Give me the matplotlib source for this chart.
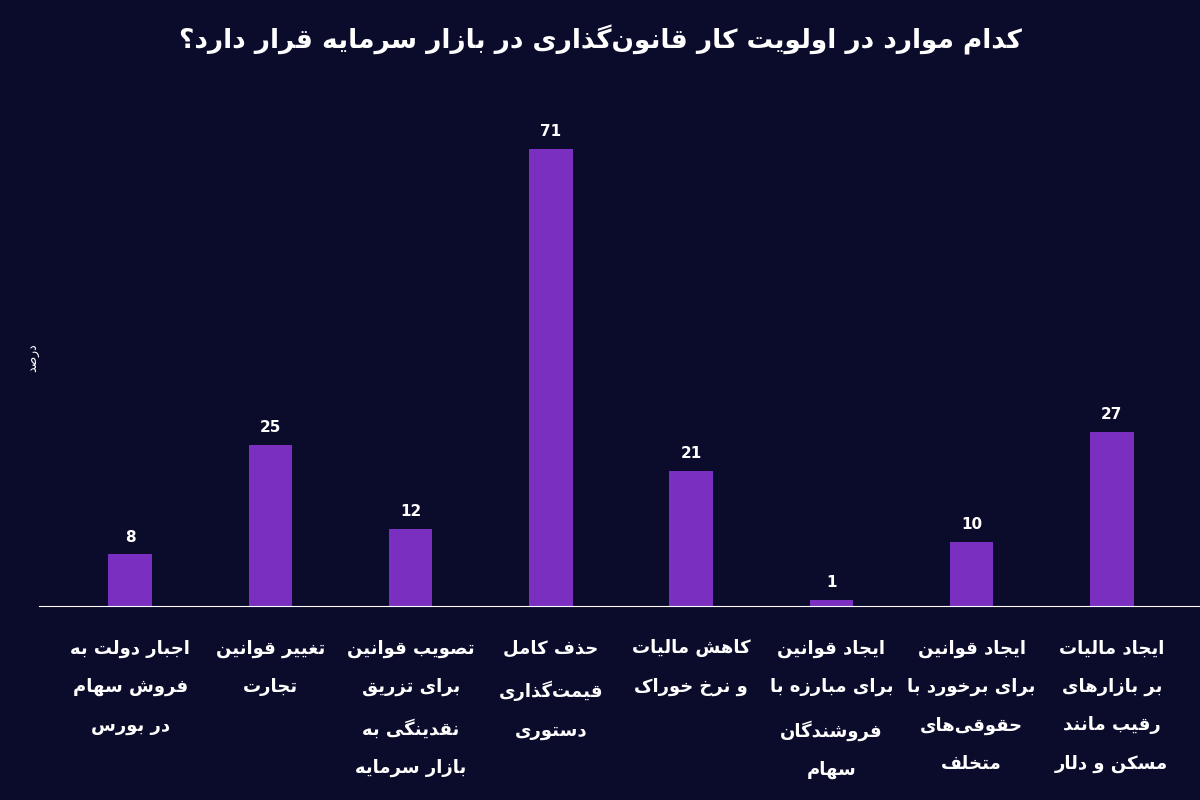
import matplotlib
matplotlib.use("Agg")
import matplotlib.pyplot as plt

# ---- data ----
categories = [
    "اجبار دولت به\nفروش سهام\nدر بورس",
    "تغییر قوانین\nتجارت",
    "تصویب قوانین\nبرای تزریق\nنقدینگی به\nبازار سرمایه",
    "حذف کامل\nقیمت‌گذاری\nدستوری",
    "کاهش مالیات\nو نرخ خوراک",
    "ایجاد قوانین\nبرای مبارزه با\nفروشندگان\nسهام",
    "ایجاد قوانین\nبرای برخورد با\nحقوقی‌های\nمتخلف",
    "ایجاد مالیات\nبر بازارهای\nرقیب مانند\nمسکن و دلار",
]
values = [8, 25, 12, 71, 21, 1, 10, 27]
title = "کدام موارد در اولویت کار قانون‌گذاری در بازار سرمایه قرار دارد؟"
ylabel = "درصد"

# ---- minimal Persian shaping ----
FORMS = {
    'ا': (0xFE8D, 0xFE8E, None, None), 'د': (0xFEA9, 0xFEAA, None, None),
    'ذ': (0xFEAB, 0xFEAC, None, None), 'ر': (0xFEAD, 0xFEAE, None, None),
    'ز': (0xFEAF, 0xFEB0, None, None), 'ژ': (0xFB8A, 0xFB8B, None, None),
    'و': (0xFEED, 0xFEEE, None, None),
    'ب': (0xFE8F, 0xFE90, 0xFE91, 0xFE92), 'پ': (0xFB56, 0xFB57, 0xFB58, 0xFB59),
    'ت': (0xFE95, 0xFE96, 0xFE97, 0xFE98), 'ث': (0xFE99, 0xFE9A, 0xFE9B, 0xFE9C),
    'ج': (0xFE9D, 0xFE9E, 0xFE9F, 0xFEA0), 'چ': (0xFB7A, 0xFB7B, 0xFB7C, 0xFB7D),
    'ح': (0xFEA1, 0xFEA2, 0xFEA3, 0xFEA4), 'خ': (0xFEA5, 0xFEA6, 0xFEA7, 0xFEA8),
    'س': (0xFEB1, 0xFEB2, 0xFEB3, 0xFEB4), 'ش': (0xFEB5, 0xFEB6, 0xFEB7, 0xFEB8),
    'ص': (0xFEB9, 0xFEBA, 0xFEBB, 0xFEBC), 'ض': (0xFEBD, 0xFEBE, 0xFEBF, 0xFEC0),
    'ط': (0xFEC1, 0xFEC2, 0xFEC3, 0xFEC4), 'ظ': (0xFEC5, 0xFEC6, 0xFEC7, 0xFEC8),
    'ع': (0xFEC9, 0xFECA, 0xFECB, 0xFECC), 'غ': (0xFECD, 0xFECE, 0xFECF, 0xFED0),
    'ف': (0xFED1, 0xFED2, 0xFED3, 0xFED4), 'ق': (0xFED5, 0xFED6, 0xFED7, 0xFED8),
    'ک': (0xFB8E, 0xFB8F, 0xFB90, 0xFB91), 'گ': (0xFB92, 0xFB93, 0xFB94, 0xFB95),
    'ل': (0xFEDD, 0xFEDE, 0xFEDF, 0xFEE0), 'م': (0xFEE1, 0xFEE2, 0xFEE3, 0xFEE4),
    'ن': (0xFEE5, 0xFEE6, 0xFEE7, 0xFEE8), 'ه': (0xFEE9, 0xFEEA, 0xFEEB, 0xFEEC),
    'ی': (0xFBFC, 0xFBFD, 0xFBFE, 0xFBFF),
}

def shape_line(s):
    out = []
    n = len(s)
    for i, c in enumerate(s):
        if c not in FORMS:
            if c != '\u200c':
                out.append(c)
            continue
        f = FORMS[c]
        prev = s[i - 1] if i > 0 else ''
        nxt = s[i + 1] if i + 1 < n else ''
        jp = prev in FORMS and FORMS[prev][2] is not None
        jn = nxt in FORMS and f[2] is not None
        if jp and jn:
            out.append(chr(f[3]))
        elif jp:
            out.append(chr(f[1]))
        elif jn:
            out.append(chr(f[2]))
        else:
            out.append(chr(f[0]))
    return ''.join(reversed(out))

def fa(s):
    return '\n'.join(shape_line(l) for l in s.split('\n'))

BG = '#0b0b2b'
BAR = '#7a2fc0'
plt.rcParams['font.family'] = ['DejaVu Sans']

fig = plt.figure(figsize=(12, 8), dpi=100, facecolor=BG)
ax = fig.add_axes([0.0325, 0.2425, 0.97, 0.62], facecolor=BG)
x = list(range(len(values)))
ax.bar(x, values, width=0.31, color=BAR)
for xi, v in zip(x, values):
    ax.text(xi, v + 1.5, str(v), ha='center', va='bottom', color='white',
            fontsize=11, fontweight='bold')
ax.set_xlim(-0.65, 7.65)
ax.set_ylim(0, 77)
for s in ['top', 'right', 'left']:
    ax.spines[s].set_visible(False)
ax.spines['bottom'].set_color('white')
ax.set_yticks([])
ax.set_xticks(x)
ax.set_xticklabels([fa(c) for c in categories], color='white', fontsize=13,
                   fontweight='bold', linespacing=2.45)
ax.tick_params(axis='x', length=0, pad=24)
ax.set_ylabel(fa(ylabel), color='white', fontsize=9, labelpad=0)
fig.text(0.5, 0.95, fa(title), ha='center', va='center', color='white',
         fontsize=19, fontweight='bold')
fig.savefig('out.png', dpi=100, facecolor=BG)
